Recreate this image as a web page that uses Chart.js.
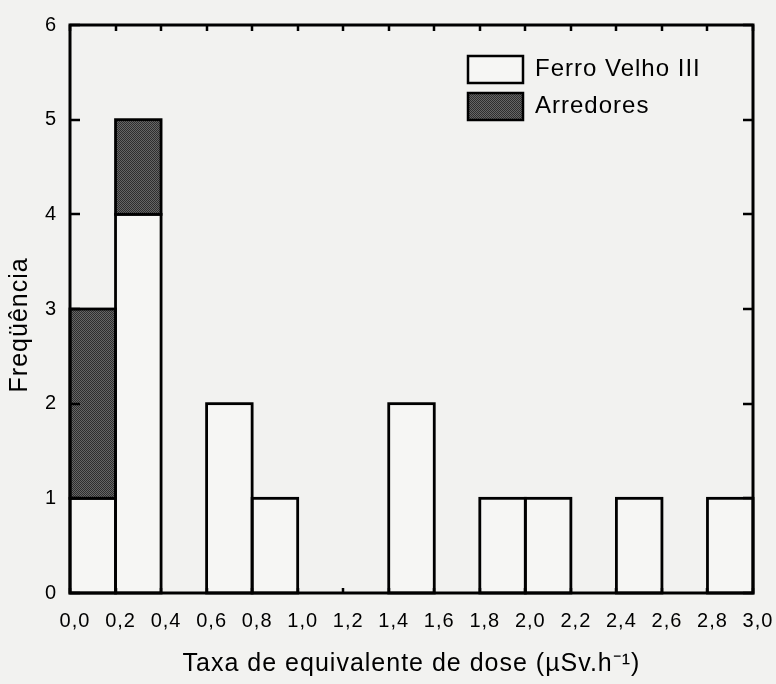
<!DOCTYPE html>
<html>
<head>
<meta charset="utf-8">
<script src="https://cdn.jsdelivr.net/npm/chart.js@4/dist/chart.umd.min.js"></script>
<style>
  html, body { margin: 0; padding: 0; background: #f2f2f0; }
  #c { display: block; }
</style>
</head>
<body>
<canvas id="c" width="776" height="684"></canvas>
<script>
// Histogram bins of dose-equivalent rate (width 0.2 µSv/h), given by their centres
const binCenters = [0.1, 0.3, 0.5, 0.7, 0.9, 1.1, 1.3, 1.5, 1.7, 1.9, 2.1, 2.3, 2.5, 2.7, 2.9];
// Counts per bin for each group
const ferroVelho = [1, 4, 0, 2, 1, 0, 0, 2, 0, 1, 1, 0, 1, 0, 1];
const arredores  = [2, 1, 0, 0, 0, 0, 0, 0, 0, 0, 0, 0, 0, 0, 0];
const seriesNames = ['Ferro Velho III', 'Arredores'];
const xTitle = 'Taxa de equivalente de dose (\u00B5Sv.h\u207B\u00B9)';
// trailing no-break spaces nudge the rotated title a little below centre
const yTitle = 'Freq\u00FC\u00EAncia\u00A0\u00A0\u00A0\u00A0';

const FONT = 'Arial, "Liberation Sans", Helvetica, sans-serif';

// dithered dark-grey fill
function ditherPattern() {
  const p = document.createElement('canvas');
  p.width = 2; p.height = 2;
  const g = p.getContext('2d');
  g.fillStyle = '#666666'; g.fillRect(0, 0, 2, 2);
  g.fillStyle = '#2e2e2e'; g.fillRect(0, 0, 1, 1); g.fillRect(1, 1, 1, 1);
  return g.createPattern(p, 'repeat');
}

// empty bins are left out so no zero-height bars are drawn
function toPoints(counts) {
  const pts = [];
  counts.forEach((c, i) => { if (c > 0) pts.push({ x: binCenters[i], y: c }); });
  return pts;
}

// slightly tracked lettering, as in the printed figure
const trackingPlugin = {
  id: 'tracking',
  beforeUpdate(chart) { chart.ctx.letterSpacing = '1px'; },
  beforeDraw(chart) { chart.ctx.letterSpacing = '1px'; }
};

const paperPlugin = {
  id: 'paper',
  beforeDraw(chart) {
    const ctx = chart.ctx;
    ctx.save();
    ctx.fillStyle = '#f2f2f0';
    ctx.fillRect(0, 0, chart.width, chart.height);
    ctx.restore();
  }
};

// outline each bar segment with a centred stroke so shared edges stay single-width
const outlinePlugin = {
  id: 'outline',
  afterDatasetsDraw(chart) {
    const ctx = chart.ctx;
    ctx.save();
    ctx.strokeStyle = '#000';
    ctx.lineWidth = 2.8;
    ctx.lineJoin = 'miter';
    chart.data.datasets.forEach((ds, i) => {
      const meta = chart.getDatasetMeta(i);
      meta.data.forEach(el => {
        const p = el.getProps(['x', 'y', 'base', 'width'], true);
        ctx.strokeRect(p.x - p.width / 2, Math.min(p.y, p.base), p.width, Math.abs(p.base - p.y));
      });
    });
    ctx.restore();
  }
};

// closed frame with inward tick marks on all four sides
const framePlugin = {
  id: 'frame',
  afterDraw(chart) {
    const { ctx, chartArea: a, scales } = chart;
    ctx.save();
    ctx.strokeStyle = '#000';
    ctx.lineWidth = 2.5;
    ctx.beginPath();
    scales.x.ticks.forEach(t => {
      const px = Math.round(scales.x.getPixelForValue(t.value));
      ctx.moveTo(px, a.top); ctx.lineTo(px, a.top + 6);
      ctx.moveTo(px, a.bottom); ctx.lineTo(px, a.bottom - 5);
    });
    scales.y.ticks.forEach(t => {
      const py = Math.round(scales.y.getPixelForValue(t.value));
      ctx.moveTo(a.left, py); ctx.lineTo(a.left + 10, py);
      ctx.moveTo(a.right, py); ctx.lineTo(a.right - 10, py);
    });
    ctx.stroke();
    ctx.lineWidth = 3;
    ctx.strokeRect(a.left, a.top, a.right - a.left, a.bottom - a.top);
    ctx.restore();
  }
};

// place the legend in the upper-right part of the plot
const legendPlacePlugin = {
  id: 'legendPlace',
  afterLayout(chart) {
    const lg = chart.legend;
    if (!lg) return;
    lg.left = 458;
    lg.top = 46;
  }
};

const chart = new Chart(document.getElementById('c'), {
  type: 'bar',
  data: {
    datasets: [
      {
        label: seriesNames[0],
        data: toPoints(ferroVelho),
        backgroundColor: '#f6f6f4',
        borderWidth: 0,
        barPercentage: 1,
        categoryPercentage: 1
      },
      {
        label: seriesNames[1],
        data: toPoints(arredores),
        backgroundColor: ditherPattern(),
        borderWidth: 0,
        barPercentage: 1,
        categoryPercentage: 1
      }
    ]
  },
  options: {
    responsive: false,
    devicePixelRatio: 1,
    animation: false,
    layout: { padding: { left: 0, top: 20, right: 23, bottom: 0 } },
    plugins: {
      tooltip: { enabled: false },
      legend: {
        position: 'chartArea',
        align: 'start',
        labels: {
          boxWidth: 55,
          boxHeight: 27,
          padding: 10,
          color: '#000',
          font: { family: FONT, size: 24 },
          generateLabels(ch) {
            return ch.data.datasets.map((ds, i) => ({
              text: ds.label,
              fillStyle: ds.backgroundColor,
              strokeStyle: '#000',
              lineWidth: 2.5,
              hidden: false,
              datasetIndex: i
            }));
          }
        }
      }
    },
    scales: {
      x: {
        type: 'linear',
        stacked: true,
        offset: false,
        min: 0,
        max: 3,
        grid: { display: false, drawTicks: false, offset: false },
        border: { display: false },
        afterFit(s) { s.height = 91; s.paddingLeft = 0; s.paddingRight = 0; },
        ticks: {
          stepSize: 0.2,
          autoSkip: false,
          maxRotation: 0,
          minRotation: 0,
          padding: 16,
          labelOffset: 5,
          color: '#000',
          font: { family: FONT, size: 20 },
          callback: v => Number(v).toFixed(1).replace('.', ',')
        },
        title: {
          display: true,
          text: xTitle,
          color: '#000',
          font: { family: FONT, size: 25 },
          padding: { top: 0, bottom: 5 }
        }
      },
      y: {
        stacked: true,
        min: 0,
        max: 6,
        grid: { display: false, drawTicks: false },
        border: { display: false },
        afterFit(s) { s.width = 70; },
        ticks: {
          stepSize: 1,
          padding: 13,
          color: '#000',
          font: { family: FONT, size: 20 }
        },
        title: {
          display: true,
          text: yTitle,
          color: '#000',
          font: { family: FONT, size: 25 },
          padding: { top: 5, bottom: 0 }
        }
      }
    }
  },
  plugins: [trackingPlugin, paperPlugin, outlinePlugin, framePlugin, legendPlacePlugin]
});
</script>
</body>
</html>
